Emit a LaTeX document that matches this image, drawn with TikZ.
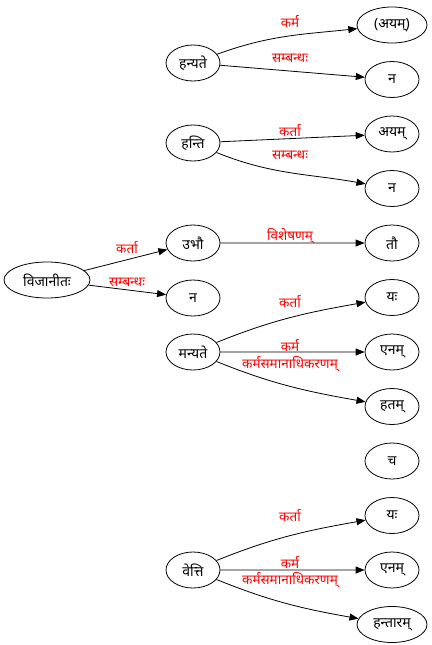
\documentclass[tikz,border=0pt]{standalone}
\usepackage{fontspec}
\setmainfont[Script=Devanagari]{Noto Sans}
\usetikzlibrary{arrows.meta, positioning, shapes.geometric}
\definecolor{relred}{HTML}{FF0000}
\tikzset{
  word/.style={ellipse, draw=black, line width=0.8pt, minimum width=54pt,
    minimum height=36pt, inner sep=1pt, font=\fontsize{14}{16}\selectfont},
  wide/.style={word, minimum width=70pt},
  rel/.style={text=relred, inner sep=1pt, font=\fontsize{13.5}{15}\selectfont},
  arrow/.style={-{Triangle[length=9pt, width=7pt]}, line width=0.8pt},
}
\begin{document}
\begin{tikzpicture}[x=1pt, y=-1pt, node distance=17.7pt]
\useasboundingbox (0,0) rectangle (431,645);
% right column
\node[wide] (ayamBr) at (392,25) {(अयम्)};
\node[word, below=of ayamBr] (naA) {न};
\node[word, below=of naA] (ayam) {अयम्};
\node[word, below=of ayam] (naB) {न};
\node[word, below=of naB] (tau) {तौ};
\node[word, below=of tau] (yahA) {यः};
\node[word, below=of yahA] (enamA) {एनम्};
\node[word, below=of enamA] (hatam) {हतम्};
\node[word, below=of hatam] (ca) {च};
\node[word, below=of ca] (yahB) {यः};
\node[word, below=of yahB] (enamB) {एनम्};
\node[wide, below=of enamB] (hantaram) {हन्तारम्};
% middle column
\node[word] (hanyate) at (193,63) {हन्यते};
\node[word] (hanti) at (193,143) {हन्ति};
\node[word] (ubhau) at (193,243) {उभौ};
\node[word] (naC) at (193,298) {न};
\node[word] (manyate) at (193,352) {मन्यते};
\node[word] (vetti) at (193,570) {वेत्ति};
% root
\node[word, minimum width=86pt] (vijanitah) at (47,280) {विजानीतः};
% edges
\draw[arrow] (hanyate) to[out=20, in=186] (ayamBr);
\draw[arrow] (hanyate) -- (naA);
\draw[arrow] (hanti) -- (ayam);
\draw[arrow] (hanti) to[out=-22, in=170] (naB);
\draw[arrow] (vijanitah) -- (ubhau);
\draw[arrow] (vijanitah) -- (naC);
\draw[arrow] (ubhau) -- (tau);
\draw[arrow] (manyate) to[out=22, in=190] (yahA);
\draw[arrow] (manyate) -- (enamA);
\draw[arrow] (manyate) to[out=-22, in=170] (hatam);
\draw[arrow] (vetti) to[out=22, in=190] (yahB);
\draw[arrow] (vetti) -- (enamB);
\draw[arrow] (vetti) to[out=-22, in=170] (hantaram);
% edge labels
\node[rel] (lbKarmaA) at (290,21) {कर्म};
\node[rel] (lbSambA) at (290,58) {सम्बन्धः};
\node[rel] (lbKartaA) at (290,131) {कर्ता};
\node[rel] (lbSambB) at (290,155) {सम्बन्धः};
\node[rel] (lbKartaB) at (127,248) {कर्ता};
\node[rel] (lbSambC) at (127,282) {सम्बन्धः};
\node[rel] (lbVish) at (290,236) {विशेषणम्};
\node[rel] (lbKartaC) at (290,302) {कर्ता};
\node[rel] (lbKarmaB) at (290,345) {कर्म};
\node[rel] (lbSamaA) at (290,364) {कर्मसमानाधिकरणम्};
\node[rel] (lbKartaD) at (290,516) {कर्ता};
\node[rel] (lbKarmaC) at (290,562) {कर्म};
\node[rel] (lbSamaB) at (290,580) {कर्मसमानाधिकरणम्};
\end{tikzpicture}
\end{document}
